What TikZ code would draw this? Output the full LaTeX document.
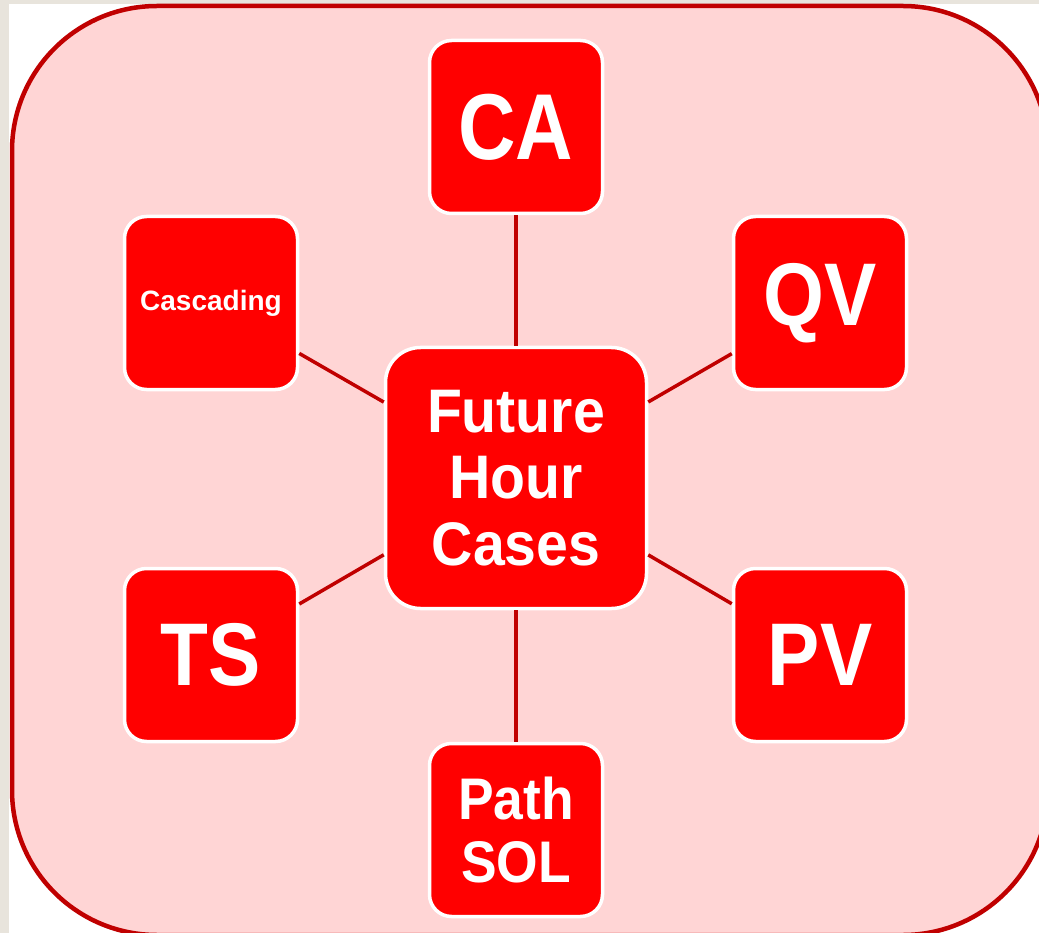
\documentclass[tikz,border=0pt]{standalone}
\usepackage{fontspec}
\setmainfont{Liberation Sans}
\newfontfamily\fCA{Liberation Sans}[FakeStretch=0.85]
\newfontfamily\fBig{Liberation Sans}[FakeStretch=0.88]
\newfontfamily\fMid{Liberation Sans}[FakeStretch=0.93]
\newfontfamily\fPath{Liberation Sans}[FakeStretch=0.91]
\definecolor{bgbeige}{HTML}{E8E4DC}
\definecolor{panelpink}{HTML}{FFD5D5}
\definecolor{darkred}{HTML}{C00000}
\definecolor{boxred}{HTML}{FF0000}
\begin{document}
\begin{tikzpicture}[x=1pt,y=-1pt,
  box/.style={draw=white, line width=3.5pt, fill=boxred, text=white, rounded corners=22pt,
    minimum width=173pt, minimum height=173pt, inner sep=0pt, align=center},
  hub/.style={box, minimum width=261pt, minimum height=261pt, rounded corners=35pt},
  link/.style={draw=darkred, line width=3.5pt}]
\useasboundingbox (0,0) rectangle (1039,933);
\begin{scope}
\clip (0,0) rectangle (1039,933);
\fill[bgbeige] (0,0) rectangle (1039,933);
\fill[white] (9,4) rectangle (1039,933);
\draw[darkred, fill=panelpink, line width=4.5pt, rounded corners=145pt] (12,6) rectangle (1048,935);
\end{scope}
\node[hub, font=\fMid\bfseries\fontsize{61.5}{66.5}\selectfont] (hub) at (516,478) {Future\\Hour\\Cases};
\node[box, font=\fCA\bfseries\fontsize{93.6}{94}\selectfont] (ca) at (516,127) {CA};
\node[box, font=\bfseries\fontsize{28}{30}\selectfont] (casc) at (211,303) {Cascading};
\node[box, font=\fBig\bfseries\fontsize{89}{90}\selectfont] (qv) at (820,303) {QV};
\node[box, font=\fBig\bfseries\fontsize{89}{90}\selectfont] (ts) at (211,655) {TS};
\node[box, font=\fBig\bfseries\fontsize{89}{90}\selectfont] (pv) at (820,655) {PV};
\node[box, font=\fPath\bfseries\fontsize{58.7}{63}\selectfont] (path) at (516,830) {Path\\SOL};
\draw[link] (hub) -- (ca);
\draw[link] (hub) -- (casc);
\draw[link] (hub) -- (qv);
\draw[link] (hub) -- (ts);
\draw[link] (hub) -- (pv);
\draw[link] (hub) -- (path);
\end{tikzpicture}
\end{document}
